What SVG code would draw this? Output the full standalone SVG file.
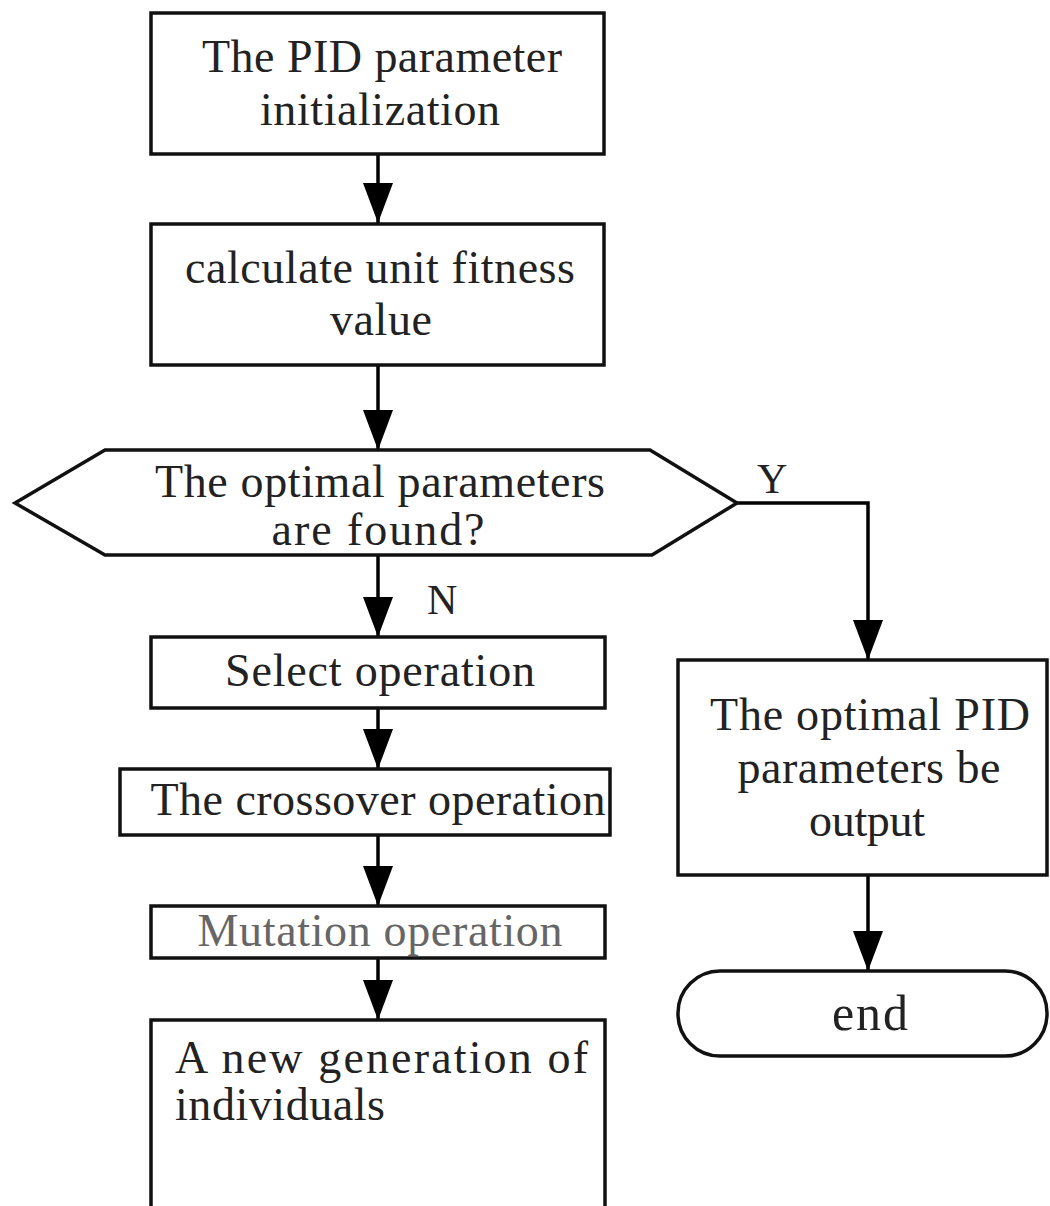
<svg xmlns="http://www.w3.org/2000/svg" width="1050" height="1206" viewBox="0 0 1050 1206">
<style>
.box{fill:#fff;stroke:#111;stroke-width:3.5}
.t{font-family:"Liberation Serif","Times New Roman",serif;font-size:46px;fill:#222;text-anchor:middle}
.tl{font-family:"Liberation Serif","Times New Roman",serif;font-size:46px;fill:#222}
.lbl{font-family:"Liberation Serif","Times New Roman",serif;font-size:42px;fill:#222}
.c{fill:none;stroke:#000;stroke-width:3.5}
</style>
<defs>
<marker id="ah" markerUnits="userSpaceOnUse" markerWidth="40" markerHeight="30" refX="40" refY="15" viewBox="0 0 40 30" orient="auto">
<polygon points="0,0 40,15 0,30" fill="#000"/>
</marker>
</defs>
<rect width="1050" height="1206" fill="#fff"/>
<g id="connectors">
<line class="c" x1="378" y1="154" x2="378" y2="223" marker-end="url(#ah)"/>
<line class="c" x1="378" y1="365" x2="378" y2="450" marker-end="url(#ah)"/>
<line class="c" x1="378" y1="555" x2="378" y2="637" marker-end="url(#ah)"/>
<line class="c" x1="378" y1="708" x2="378" y2="769" marker-end="url(#ah)"/>
<line class="c" x1="378" y1="835" x2="378" y2="906" marker-end="url(#ah)"/>
<line class="c" x1="378" y1="958" x2="378" y2="1020" marker-end="url(#ah)"/>
<polyline class="c" points="737,503 868,503 868,660" marker-end="url(#ah)"/>
<line class="c" x1="868" y1="875" x2="868" y2="971" marker-end="url(#ah)"/>
<text class="lbl" x="757" y="493">Y</text>
<text class="lbl" x="427" y="614">N</text>
</g>
<g id="n1">
<rect class="box" x="151" y="13" width="453" height="141"/>
<text class="t" x="382" y="72" textLength="360">The PID parameter</text>
<text class="t" x="380" y="125" textLength="240">initialization</text>
</g>
<g id="n2">
<rect class="box" x="151" y="224" width="453" height="141"/>
<text class="t" x="380" y="283" textLength="390">calculate unit fitness</text>
<text class="t" x="381" y="335" textLength="102">value</text>
</g>
<g id="n3">
<polygon class="box" points="15,503 105,450 650,450 737,503 652,555 105,555"/>
<text class="t" x="380" y="497" textLength="450">The optimal parameters</text>
<text class="t" x="378" y="545" textLength="213">are found?</text>
</g>
<g id="n4">
<rect class="box" x="151" y="637" width="454" height="71"/>
<text class="t" x="380" y="686" textLength="310">Select operation</text>
</g>
<g id="n5">
<rect class="box" x="120" y="769" width="490" height="66"/>
<text class="t" x="378" y="815" textLength="455">The crossover operation</text>
</g>
<g id="n6">
<rect class="box" x="151" y="906" width="454" height="52"/>
<text class="t" x="380" y="946" textLength="365" style="fill:#666">Mutation operation</text>
</g>
<g id="n7">
<rect class="box" x="151" y="1020" width="454" height="200"/>
<text class="tl" x="175" y="1073" textLength="413">A new generation of</text>
<text class="tl" x="175" y="1120" textLength="210">individuals</text>
</g>
<g id="n8">
<rect class="box" x="678" y="660" width="369" height="215"/>
<text class="t" x="870" y="730" textLength="320">The optimal PID</text>
<text class="t" x="869" y="783" textLength="263">parameters be</text>
<text class="t" x="867" y="836" textLength="116">output</text>
</g>
<g id="n9">
<rect class="box" x="678" y="971" width="369" height="85" rx="42" ry="42"/>
<text class="t" x="870" y="1030" textLength="76" style="font-size:50px">end</text>
</g>
</svg>
